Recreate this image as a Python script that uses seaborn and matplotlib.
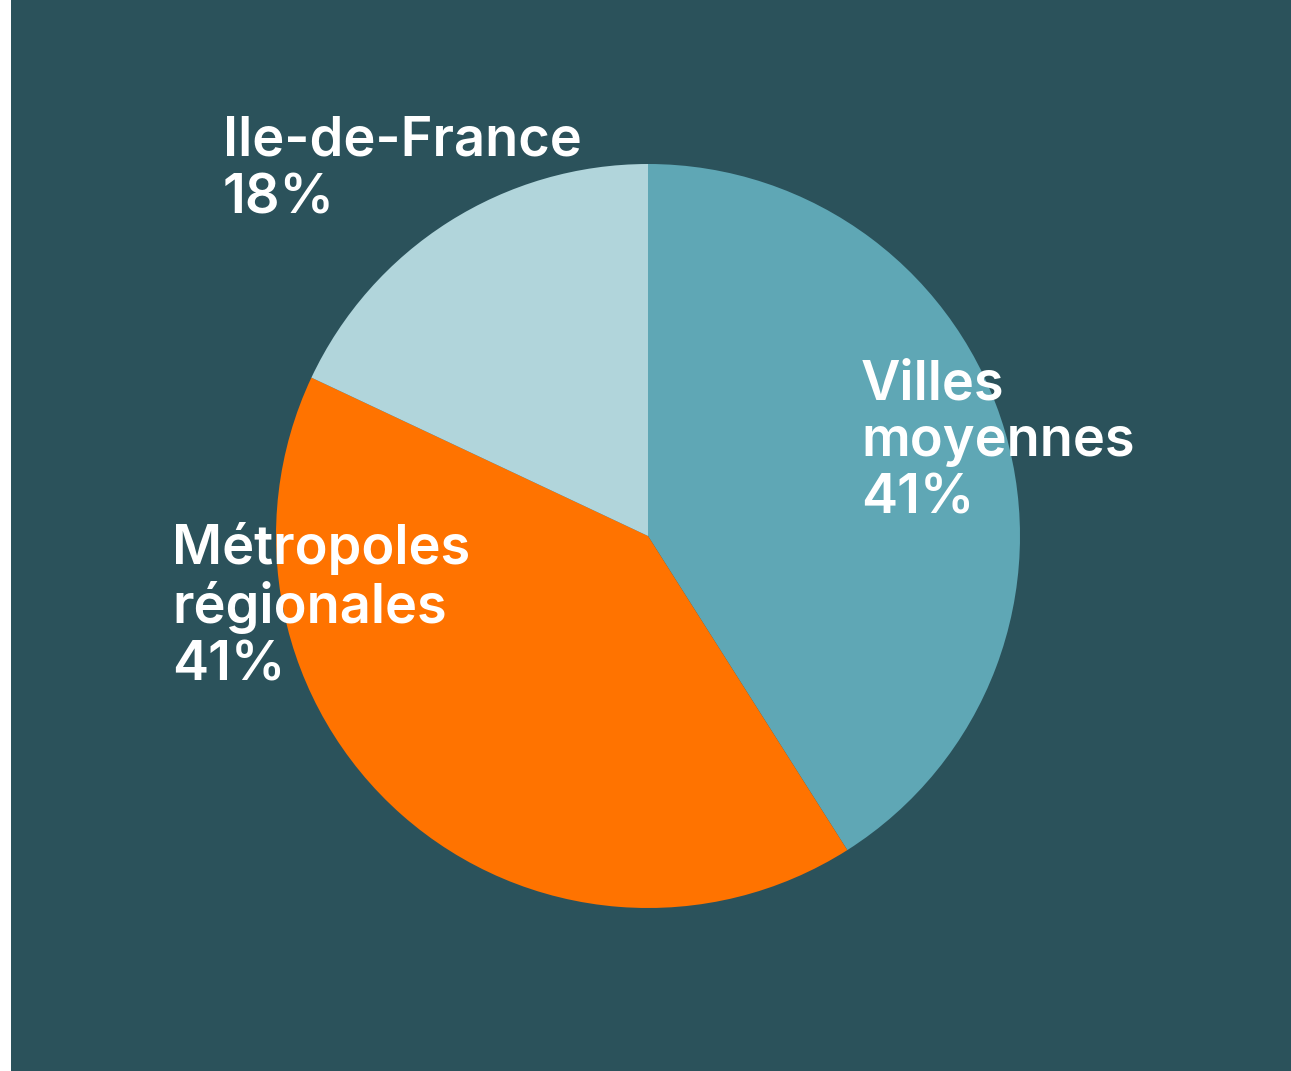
import matplotlib.pyplot as plt
import seaborn as sns
from matplotlib.patches import Rectangle

# data
regions = ["Villes\nmoyennes", "Métropoles\nrégionales", "Ile-de-France"]
shares = [41, 41, 18]
colors = ["#5FA7B5", "#FF7300", "#B1D5DB"]
bg = "#2B525B"

sns.set_theme(style="white")
plt.rcParams['font.family'] = ['Inter', 'DejaVu Sans']

W, H = 1291, 1071
fig = plt.figure(figsize=(W / 100, H / 100), dpi=100)
fig.patch.set_facecolor("white")
ax = fig.add_axes([0, 0, 1, 1])

ax.pie(shares, colors=colors, startangle=90, counterclock=False,
       center=(648, H - 536), radius=372, wedgeprops=dict(linewidth=0))

# pie() resets the limits, so set pixel-like coords afterwards
ax.set_xlim(0, W)
ax.set_ylim(0, H)
ax.set_aspect("equal")
ax.axis("off")
ax.add_patch(Rectangle((11, 0), W - 11, H, facecolor=bg, edgecolor="none", zorder=0))

# labels (top-left anchor in pixel coords)
label_pos = [(861, 359), (172, 522), (223, 116)]
for name, val, (x, y) in zip(regions, shares, label_pos):
    ax.text(x, H - y, f"{name}\n{val}%", color="white", fontsize=39,
            fontweight="semibold", ha="left", va="top", linespacing=1.15, zorder=5)

fig.savefig("out.png", dpi=100, facecolor=fig.get_facecolor())
